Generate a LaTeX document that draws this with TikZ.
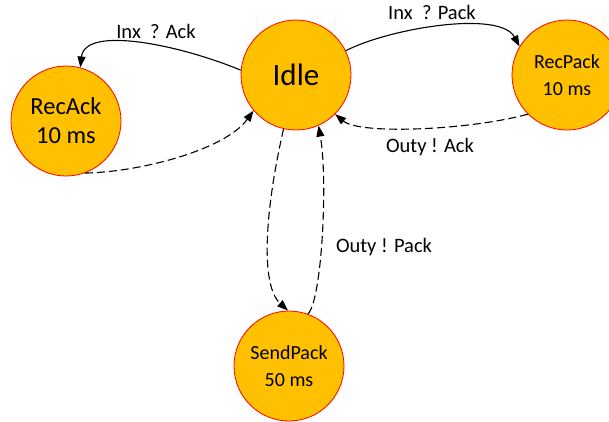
\documentclass[tikz,border=0pt]{standalone}
\usepackage{fontspec}
\setmainfont{Carlito}
\usetikzlibrary{arrows.meta}
\definecolor{stfill}{HTML}{FFC000}
\definecolor{stline}{HTML}{FF0000}
\tikzset{
  state/.style={circle,fill=stfill,draw=stline,line width=0.8bp,minimum size=110bp,inner sep=0pt,align=center},
  trans/.style={line width=1.1bp,-{Triangle[length=11bp,width=8bp]}},
  dtrans/.style={trans,dash pattern=on 8bp off 4bp},
  lbl/.style={font=\fontsize{20.5bp}{24bp}\selectfont,inner sep=0pt}
}
\begin{document}
\begin{tikzpicture}[x=1bp,y=-1bp]
\useasboundingbox (0,0) rectangle (609,421);
\node[state,font=\fontsize{31bp}{34bp}\selectfont] (idle) at (296,75) {Idle};
\node[state,font=\fontsize{24.5bp}{29bp}\selectfont] (recack) at (66,121) {RecAck\\10 ms};
\node[state,font=\fontsize{20bp}{27bp}\selectfont] (recpack) at (567,75) {RecPack\\10 ms};
\node[state,font=\fontsize{20bp}{27bp}\selectfont] (sendpack) at (289,366) {SendPack\\50 ms};
% Idle -> RecAck
\draw[trans] (idle.175) .. controls (180,45) and (85,25) .. (recack.75);
\node[lbl] (l1) at (156,31) {Inx\ \ ? Ack};
% RecAck -> Idle
\draw[dtrans] (recack.-70) .. controls (140,172) and (225,150) .. (idle.220);
% Idle -> RecPack
\draw[trans] (idle.26) .. controls (390,28) and (500,10) .. (recpack.149);
\node[lbl] (l2) at (432,12) {Inx\ \ ? Pack};
% RecPack -> Idle
\draw[dtrans] (recpack.225) .. controls (470,130) and (360,135) .. (idle.-45);
\node[lbl] (l3) at (430,147) {Outy ! Ack};
% Idle -> SendPack
\draw[dtrans] (idle.257) .. controls (265,210) and (260,285) .. (sendpack.91);
% SendPack -> Idle
\draw[dtrans] (sendpack.70) .. controls (322,300) and (328,180) .. (idle.294);
\node[lbl] (l4) at (384,247) {Outy ! Pack};
\end{tikzpicture}
\end{document}
